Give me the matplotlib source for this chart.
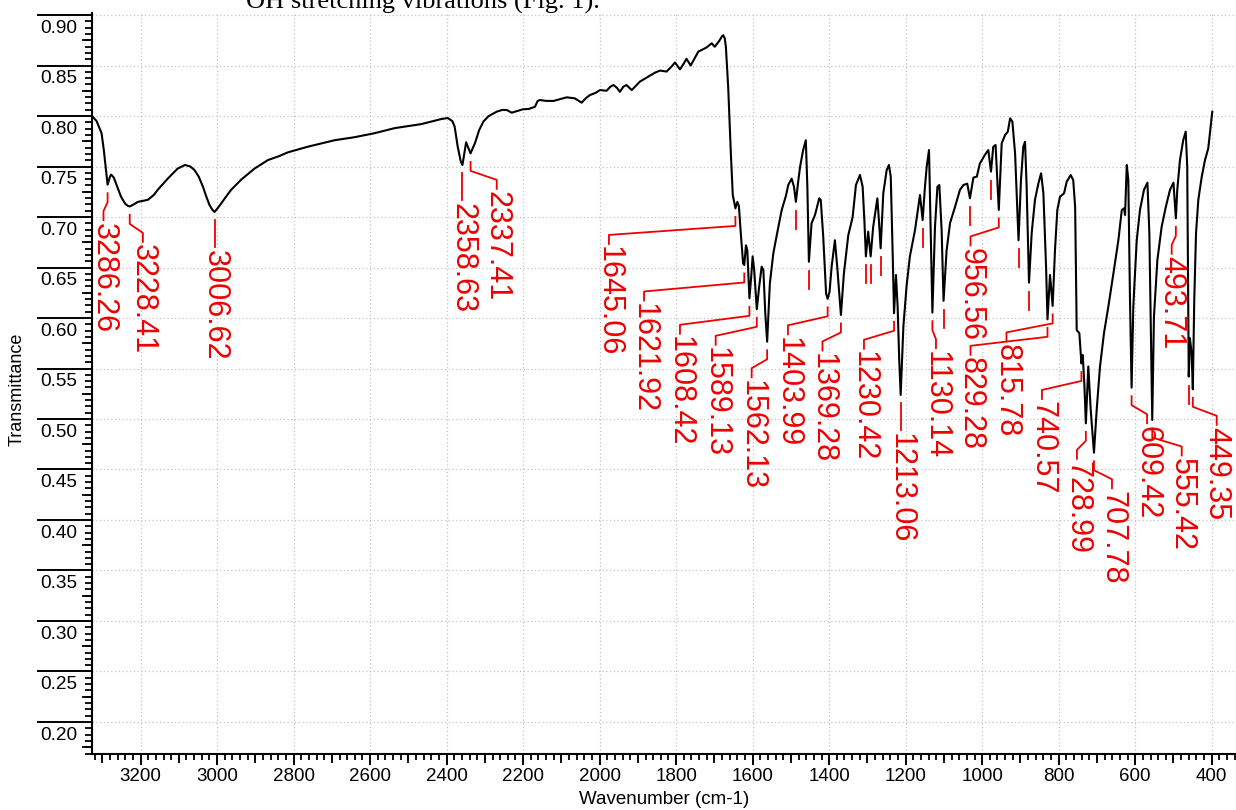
import numpy as np
import matplotlib
matplotlib.use("Agg")
import matplotlib.pyplot as plt
import matplotlib.transforms as mtransforms
from matplotlib.ticker import MultipleLocator

# ---------------- data ----------------
wavenumber = [
    3327, 3315, 3302, 3296, 3290, 3286.26, 3280, 3277, 3270, 3264, 3251, 3240, 3233, 3228.41, 3220,
    3207, 3181, 3165, 3155, 3129, 3103, 3084, 3070, 3059, 3048, 3037, 3028, 3020, 3012, 3006.62,
    2998, 2989, 2975, 2963, 2937, 2902, 2867, 2840, 2815, 2763, 2693, 2641, 2588, 2536, 2466,
    2414, 2397, 2385, 2379, 2371, 2363, 2358.63, 2354, 2349, 2345, 2337.41, 2332, 2326, 2315, 2304,
    2290, 2269, 2255, 2243, 2230, 2215, 2200, 2185, 2169, 2162, 2156, 2140, 2121, 2100, 2086,
    2065, 2047, 2035, 2025, 2010, 1999, 1982, 1972, 1964, 1955, 1947, 1938, 1930, 1916, 1905,
    1895, 1873, 1855, 1842, 1825, 1812, 1803, 1790, 1780, 1773, 1762, 1752, 1742, 1730, 1720,
    1707, 1699, 1688, 1680, 1677, 1673, 1670, 1664, 1657, 1652, 1645.06, 1640, 1636, 1631, 1625,
    1621.92, 1617.5, 1614, 1608.42, 1604, 1600, 1596, 1589.13, 1583, 1576.5, 1572, 1567, 1562.13,
    1555, 1546, 1537, 1524, 1513, 1507, 1498, 1492, 1487, 1481, 1476, 1468, 1461, 1457, 1453,
    1446, 1437, 1426, 1422, 1415.5, 1408, 1403.99, 1399, 1393.5, 1385, 1379, 1369.28, 1361.5,
    1350, 1338.6, 1330, 1319.5, 1312.5, 1308, 1304, 1298, 1291.5, 1285, 1274, 1270, 1265.4,
    1258.5, 1249.7, 1243.7, 1239, 1234, 1230.42, 1225.4, 1221, 1217, 1213.06, 1206, 1197.4,
    1189, 1175.6, 1162.6, 1155.6, 1149.6, 1145, 1139, 1134.6, 1130.14, 1123.4, 1117, 1112,
    1106, 1101, 1093, 1084, 1071, 1058, 1049, 1039, 1032, 1023, 1014, 1006, 993, 984, 977, 971,
    965, 956.56, 949, 940, 933, 927, 921, 914, 905, 898.6, 892.5, 888, 884, 877.6, 870.6, 862,
    853, 846, 840, 833, 829.28, 822.7, 815.78, 809.7, 803.6, 796.6, 786, 779, 768.6, 762, 757,
    752.9, 746, 740.57, 737.2, 733, 728.99, 722.6, 716.3, 707.78, 700.7, 692, 681.6, 670.3, 657,
    644, 635, 629, 626.6, 622, 618, 613.6, 609.42, 605, 596, 587.5, 577, 568, 563, 555.42, 551,
    542, 531, 520, 509, 500, 493.71, 490, 483, 474.5, 468, 464, 460, 457, 452.5, 449.35, 445.6,
    441, 435, 426, 417.5, 409, 404.6, 398.5,
]
transmittance = [
    0.800, 0.795, 0.783, 0.766, 0.745, 0.732, 0.740, 0.742, 0.739, 0.733, 0.720, 0.713, 0.711, 0.7105, 0.712,
    0.715, 0.717, 0.722, 0.727, 0.738, 0.748, 0.7515, 0.750, 0.7465, 0.740, 0.730, 0.720, 0.712, 0.707, 0.705,
    0.709, 0.7136, 0.721, 0.727, 0.737, 0.748, 0.7564, 0.760, 0.764, 0.7696, 0.776, 0.779, 0.783, 0.788, 0.792,
    0.797, 0.798, 0.795, 0.7894, 0.7696, 0.755, 0.7515, 0.762, 0.774, 0.770, 0.763, 0.768, 0.773, 0.786, 0.7944,
    0.800, 0.8043, 0.806, 0.806, 0.8033, 0.805, 0.8067, 0.807, 0.8092, 0.815, 0.8158, 0.815, 0.8149, 0.817, 0.8185,
    0.8175, 0.8132, 0.818, 0.8208, 0.823, 0.8257, 0.825, 0.829, 0.8307, 0.828, 0.824, 0.829, 0.8307, 0.8257, 0.830,
    0.834, 0.839, 0.843, 0.845, 0.844, 0.849, 0.853, 0.8462, 0.852, 0.8567, 0.850, 0.857, 0.8638, 0.866, 0.868,
    0.872, 0.8686, 0.874, 0.879, 0.880, 0.877, 0.8686, 0.829, 0.763, 0.722, 0.7085, 0.715, 0.711, 0.684, 0.654,
    0.6525, 0.672, 0.667, 0.6195, 0.640, 0.661, 0.6475, 0.6086, 0.631, 0.6508, 0.6475, 0.6047, 0.5765,
    0.6344, 0.664, 0.682, 0.707, 0.721, 0.7317, 0.738, 0.730, 0.715, 0.735, 0.7498, 0.7663, 0.776, 0.730, 0.6557,
    0.6938, 0.702, 0.7185, 0.717, 0.6805, 0.624, 0.619, 0.626, 0.651, 0.677, 0.651, 0.603, 0.644,
    0.682, 0.700, 0.7317, 0.7416, 0.730, 0.697, 0.661, 0.6855, 0.661, 0.690, 0.7185, 0.697, 0.669,
    0.7235, 0.7465, 0.7515, 0.740, 0.664, 0.6047, 0.6426, 0.6112, 0.560, 0.5238, 0.5914, 0.6327,
    0.661, 0.687, 0.7218, 0.697, 0.730, 0.7498, 0.7663, 0.687, 0.6053, 0.690, 0.730, 0.7317,
    0.687, 0.617, 0.667, 0.694, 0.710, 0.727, 0.7317, 0.733, 0.7185, 0.739, 0.740, 0.753, 0.7614, 0.7663, 0.745, 0.7696,
    0.7713, 0.707, 0.773, 0.7812, 0.7845, 0.7977, 0.7944, 0.763, 0.677, 0.7366, 0.7696, 0.7745, 0.733, 0.635, 0.684, 0.717,
    0.7334, 0.7433, 0.7235, 0.6508, 0.5987, 0.6426, 0.612, 0.667, 0.707, 0.720, 0.7235, 0.735, 0.7416, 0.7366, 0.710,
    0.588, 0.585, 0.555, 0.5634, 0.5353, 0.4957, 0.552, 0.509, 0.4666, 0.509, 0.552, 0.585, 0.611, 0.644,
    0.677, 0.707, 0.7086, 0.702, 0.7515, 0.7366, 0.618, 0.531, 0.611, 0.677, 0.707, 0.727, 0.734, 0.684, 0.499, 0.6013,
    0.6575, 0.690, 0.710, 0.727, 0.734, 0.6987, 0.727, 0.7564, 0.776, 0.7845, 0.7498, 0.542, 0.580, 0.565, 0.5294, 0.618,
    0.684, 0.717, 0.740, 0.7564, 0.768, 0.783, 0.8043,
]

# labelled peaks and where their label columns sit (wavenumber units)
peak_labels = [3286.26, 3228.41, 3006.62, 2358.63, 2337.41, 1645.06, 1621.92, 1608.42,
               1589.13, 1562.13, 1403.99, 1369.28, 1230.42, 1213.06, 1130.14, 956.56,
               829.28, 815.78, 740.57, 728.99, 707.78, 609.42, 555.42, 493.71, 449.35]
label_x = [3297, 3194, 3006.62, 2358.63, 2269, 1975.7, 1884, 1790,
           1696.7, 1602.6, 1507.7, 1417.5, 1309, 1213.06, 1120.8, 1030.5,
           1030.5, 936.5, 843.7, 752.2, 660.7, 569, 478.4, 504.6, 387]
# peaks marked with a short dash only
unlabeled_peaks = [1487, 1453, 1304, 1291.5, 1265.4, 1155.6, 1101, 1032, 977, 905, 877.6, 460]

x_major = list(range(3200, 399, -200))
x_mid = list(range(3300, 399, -200))
y_major = [round(0.20 + 0.05 * i, 2) for i in range(15)]
y_mid = [round(0.175 + 0.05 * i, 3) for i in range(15)]

# ---------------- figure ----------------
FW, FH, DPI = 1236, 810, 100
plt.rcParams['font.family'] = ['Liberation Sans', 'DejaVu Sans']
fig = plt.figure(figsize=(FW / DPI, FH / DPI), dpi=DPI)
left_px, right_px, top_px, bot_px = 92, 1236, 13, 754.3
ax = fig.add_axes([left_px / FW, 1 - bot_px / FH, (right_px - left_px) / FW, (bot_px - top_px) / FH])

XMIN, XMAX, YMIN, YMAX = 3327, 336.5, 0.168, 0.902
ax.set_xlim(XMIN, XMAX)
ax.set_ylim(YMIN, YMAX)

RED = '#ee0000'

for s in ['top', 'right']:
    ax.spines[s].set_visible(False)
for s in ['left', 'bottom']:
    ax.spines[s].set_linewidth(1.5)

ax.set_axisbelow(True)
ax.grid(True, which='major', color='#c4c4c4', linestyle=(0, (1, 2)), linewidth=0.9)

# x ticks
ax.set_xticks(x_major)
ax.set_xticklabels([str(v) for v in x_major])
ax.xaxis.set_minor_locator(MultipleLocator(20))
ax.tick_params(axis='x', which='major', length=7.7, width=1.4, labelsize=13.5, pad=2.2, direction='out')
ax.tick_params(axis='x', which='minor', length=4.3, width=1.3, direction='out')
ax.plot(x_mid, [0] * len(x_mid), transform=mtransforms.blended_transform_factory(ax.transData, ax.transAxes),
        ls='', marker=3, markersize=6.2, mew=1.3, color='black', clip_on=False)

# y ticks (long major tick lines, labels below them)
ax.set_yticks(y_major)
ax.set_yticklabels([])
ax.yaxis.set_minor_locator(MultipleLocator(0.00625))
ax.tick_params(axis='y', which='major', length=39.6, width=1.4, direction='out')
ax.tick_params(axis='y', which='minor', length=5.0, width=1.3, direction='out')
ax.plot([0] * len(y_mid), y_mid, transform=mtransforms.blended_transform_factory(ax.transAxes, ax.transData),
        ls='', marker=0, markersize=7.0, mew=1.3, color='black', clip_on=False)
ylab_tr = mtransforms.offset_copy(mtransforms.blended_transform_factory(ax.transAxes, ax.transData),
                                  fig=fig, x=-15, y=-13.4, units='dots')
for v in y_major:
    ax.text(0, v, f'{v:.2f}', transform=ylab_tr, ha='right', va='center', fontsize=13.7)

ax.set_xlabel('Wavenumber (cm-1)', fontsize=13.5, va='center')
ax.xaxis.set_label_coords(0.5, (bot_px - 800) / (bot_px - top_px))
ax.set_ylabel('Transmittance', fontsize=13, va='center')
ax.yaxis.set_label_coords((17 - left_px) / (right_px - left_px), (bot_px - 389) / (bot_px - top_px))

# spectrum
ax.plot(wavenumber, transmittance, color='black', lw=1.5, zorder=3)

# peak annotations
wn_asc = np.array(wavenumber)[::-1]
tr_asc = np.array(transmittance)[::-1]
upp = (YMAX - YMIN) / (bot_px - top_px)  # data units per pixel
for pk, lx in zip(peak_labels, label_x):
    yp = np.interp(pk, wn_asc, tr_asc)
    y1 = yp - 8.5 * upp
    y2 = y1 - 9 * upp
    y3 = y2 - 9 * upp
    y4 = y3 - 9 * upp
    ax.plot([pk, pk, lx, lx], [y1, y2, y3, y4], color=RED, lw=1.3, clip_on=False, zorder=4)
    ax.text(lx, y4 - 2.5 * upp, f'{pk:.2f}', rotation=-90, ha='center', va='top',
            fontsize=22, color=RED, zorder=4)
for pk in unlabeled_peaks:
    yp = np.interp(pk, wn_asc, tr_asc)
    ax.plot([pk, pk], [yp - 9 * upp, yp - 27 * upp], color=RED, lw=1.3, zorder=4)

# cut-off line of document text above the chart (cropped in the reference too)
fig.text(246 / FW, 1 - 8.3 / FH, 'OH stretching vibrations (Fig. 1).', family=['Liberation Serif', 'DejaVu Serif'],
         fontsize=19, ha='left', va='baseline')

fig.savefig('out.png', dpi=DPI, facecolor='white')
